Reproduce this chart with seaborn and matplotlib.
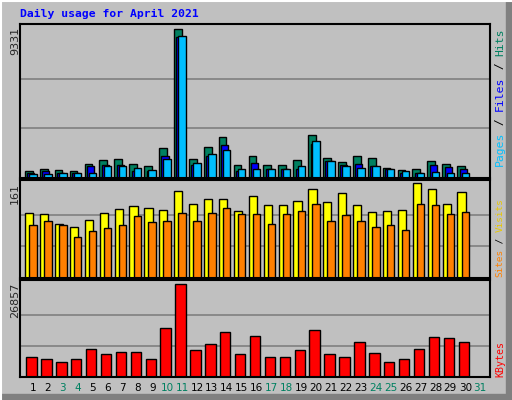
import numpy as np
import pandas as pd
import matplotlib
matplotlib.use('Agg')
import matplotlib.pyplot as plt
import seaborn as sns
from matplotlib.patches import Rectangle
from matplotlib.lines import Line2D

sns.set_style('white')

# daily values
days = np.arange(1, 31)
hits = [460, 590, 525, 460, 900, 1155, 1220, 900, 775, 1850, 9331, 1220, 1975, 2540, 840,
        1410, 840, 840, 1155, 2670, 1280, 1030, 1410, 1280, 650, 525, 590, 1090, 900, 775]
files = [315, 460, 335, 335, 735, 800, 840, 420, 420, 1410, 8870, 840, 1365, 2040, 420,
         965, 590, 590, 590, 2160, 1090, 840, 900, 775, 590, 335, 335, 840, 715, 590]
pages = [275, 275, 335, 335, 335, 775, 775, 650, 525, 1220, 8930, 965, 1530, 1785, 590,
         590, 590, 590, 775, 2290, 1090, 775, 650, 775, 590, 460, 335, 400, 335, 335]
visits = [110, 108, 91, 87, 98, 110, 117, 121, 119, 115, 147, 126, 133, 133, 114,
          138, 124, 124, 131, 150, 129, 143, 124, 112, 114, 115, 161, 150, 126, 145]
sites = [89, 96, 89, 69, 79, 84, 89, 105, 94, 96, 110, 96, 110, 119, 108,
         108, 91, 108, 114, 126, 96, 107, 96, 87, 89, 82, 126, 124, 108, 112]
kbytes = [5900, 5300, 4430, 5300, 7970, 6490, 7080, 7080, 5300, 14170, 26857, 7670, 9440, 12990, 6490,
          11800, 5900, 5900, 7670, 13580, 6490, 5900, 10040, 6790, 4430, 5300, 7970, 11510, 11220, 10040]
weekend_days = [3, 4, 10, 11, 17, 18, 24, 25, 31]

bg = '#C0C0C0'
W, H = 512, 400
fig = plt.figure(figsize=(5.12, 4.0), dpi=100, facecolor=bg)


def px_axes(x0, y0, x1, y1):
    return fig.add_axes([x0 / W, 1 - y1 / H, (x1 - x0) / W, (y1 - y0) / H])


def style(ax, vmax, top_frac):
    ax.set_facecolor(bg)
    ax.set_xlim(0.13, 31.66)
    ax.set_ylim(0, vmax * top_frac)
    for y in (vmax / 3, vmax * 2 / 3):
        ax.axhline(y, color='#808080', lw=1.2, zorder=0)
    ax.set_xticks([])
    ax.set_yticks([])
    ax.set_xlabel('')
    ax.set_ylabel('')
    for s in ax.spines.values():
        s.set_color('black')
        s.set_linewidth(1.5)


def bars(ax, offset, vals, color, width):
    sns.barplot(x=days + offset, y=vals, native_scale=True, width=width,
                color=color, edgecolor='black', linewidth=1.0, saturation=1,
                ax=ax, zorder=2)


ax1 = px_axes(20, 24, 490, 178)
bars(ax1, -0.28, hits, '#008060', 0.52)
bars(ax1, -0.14, files, '#0000FF', 0.48)
bars(ax1, 0.0, pages, '#00BFFF', 0.5)
style(ax1, max(hits), 1.035)

ax2 = px_axes(20, 180, 490, 278)
bars(ax2, -0.25, visits, '#FFFF00', 0.55)
bars(ax2, 0.0, sites, '#FF8000', 0.5)
style(ax2, max(visits), 1.03)

ax3 = px_axes(20, 280, 490, 377)
bars(ax3, -0.1, kbytes, '#FF0000', 0.7)
style(ax3, max(kbytes), 1.04)

mono = 'DejaVu Sans Mono'
fig.text(20 / W, 1 - 14 / H, 'Daily usage for April 2021', color='#0000FF',
         fontsize=8.2, fontweight='bold', family=mono, va='center')

# max values on the left
for val, ytop in ((max(hits), 27), (max(visits), 183), (max(kbytes), 283)):
    fig.text(15 / W, 1 - ytop / H, str(val), rotation=90, fontsize=8,
             family='DejaVu Sans', ha='center', va='top')

# right side labels, drawn bottom-up
def right_label(parts, ybottom, char_px, size):
    y = ybottom
    for txt, col in parts:
        fig.text(500 / W, 1 - y / H, txt, rotation=90, color=col, fontsize=size,
                 family=mono, ha='center', va='bottom')
        y -= len(txt) * char_px

right_label([('Pages', '#00BFFF'), (' / ', 'black'), ('Files', '#0000FF'),
             (' / ', 'black'), ('Hits', '#008060')], 166, 6.9, 8.2)
right_label([('Sites', '#FF8000'), (' / ', 'black'), ('Visits', '#E8C800')], 277, 5.6, 6.7)
right_label([('KBytes', '#FF0000')], 377, 6.0, 7.2)

# day labels
x0, span = 0.13, 31.53
for d in range(1, 32):
    xp = 20 + (d - x0) / span * 470
    col = '#008060' if d in weekend_days else 'black'
    fig.text(xp / W, 1 - 388 / H, str(d), color=col, fontsize=7.5,
             family='DejaVu Sans', ha='center', va='center')

# 3d border of the image
fig.add_artist(Line2D([0.5 / W, 0.5 / W], [0, 1], color='white', lw=1.5))
fig.add_artist(Line2D([0, 1], [1 - 0.5 / H, 1 - 0.5 / H], color='white', lw=1.5))
fig.add_artist(Rectangle((1 - 6 / W, 0), 6 / W, 1, color='#808080', transform=fig.transFigure))
fig.add_artist(Rectangle((0, 0), 1, 6 / H, color='#808080', transform=fig.transFigure))

fig.savefig('out.png', dpi=100, facecolor=bg)
